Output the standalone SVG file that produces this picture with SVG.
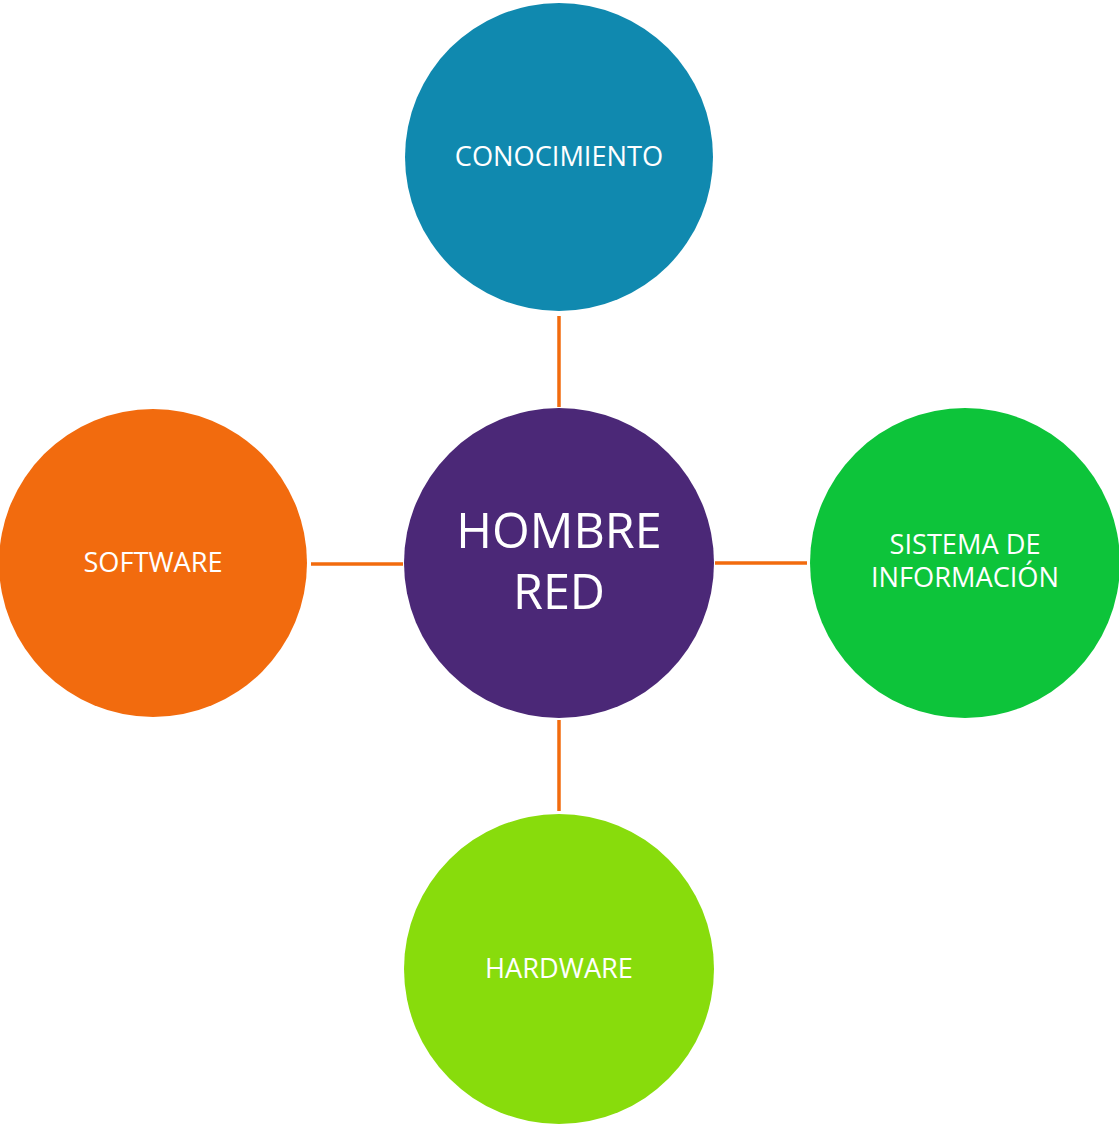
<svg xmlns="http://www.w3.org/2000/svg" width="1119" height="1127" viewBox="0 0 1119 1127">
<style>
.lbl{font-family:"Open Sans","Liberation Sans",sans-serif;fill:#fff;text-anchor:middle;font-size:27.2px}
.big{font-size:48.5px}
.con{stroke:#F26B0E;stroke-width:3.5;fill:none}
</style>
<rect width="1119" height="1127" fill="#fff"/>
<g id="connectors">
<line class="con" x1="559" y1="316" x2="559" y2="407"/>
<line class="con" x1="311" y1="564" x2="403" y2="564"/>
<line class="con" x1="715" y1="563" x2="807" y2="563"/>
<line class="con" x1="559" y1="720" x2="559" y2="811"/>
</g>
<g id="center">
<circle cx="559" cy="563" r="155" fill="#4B2877"/>
<text class="lbl big" x="559" y="548">HOMBRE</text>
<text class="lbl big" x="559" y="609">RED</text>
</g>
<g id="conocimiento">
<circle cx="559" cy="157" r="154" fill="#1089AF"/>
<text class="lbl" x="559" y="166">CONOCIMIENTO</text>
</g>
<g id="software">
<circle cx="153" cy="563" r="154" fill="#F26B0E"/>
<text class="lbl" x="153" y="572">SOFTWARE</text>
</g>
<g id="sistema">
<circle cx="965" cy="563" r="155" fill="#0DC43A"/>
<text class="lbl" x="965" y="554">SISTEMA DE</text>
<text class="lbl" x="965" y="587">INFORMACIÓN</text>
</g>
<g id="hardware">
<circle cx="559" cy="969" r="155" fill="#88DC0C"/>
<text class="lbl" x="559" y="978">HARDWARE</text>
</g>
</svg>
